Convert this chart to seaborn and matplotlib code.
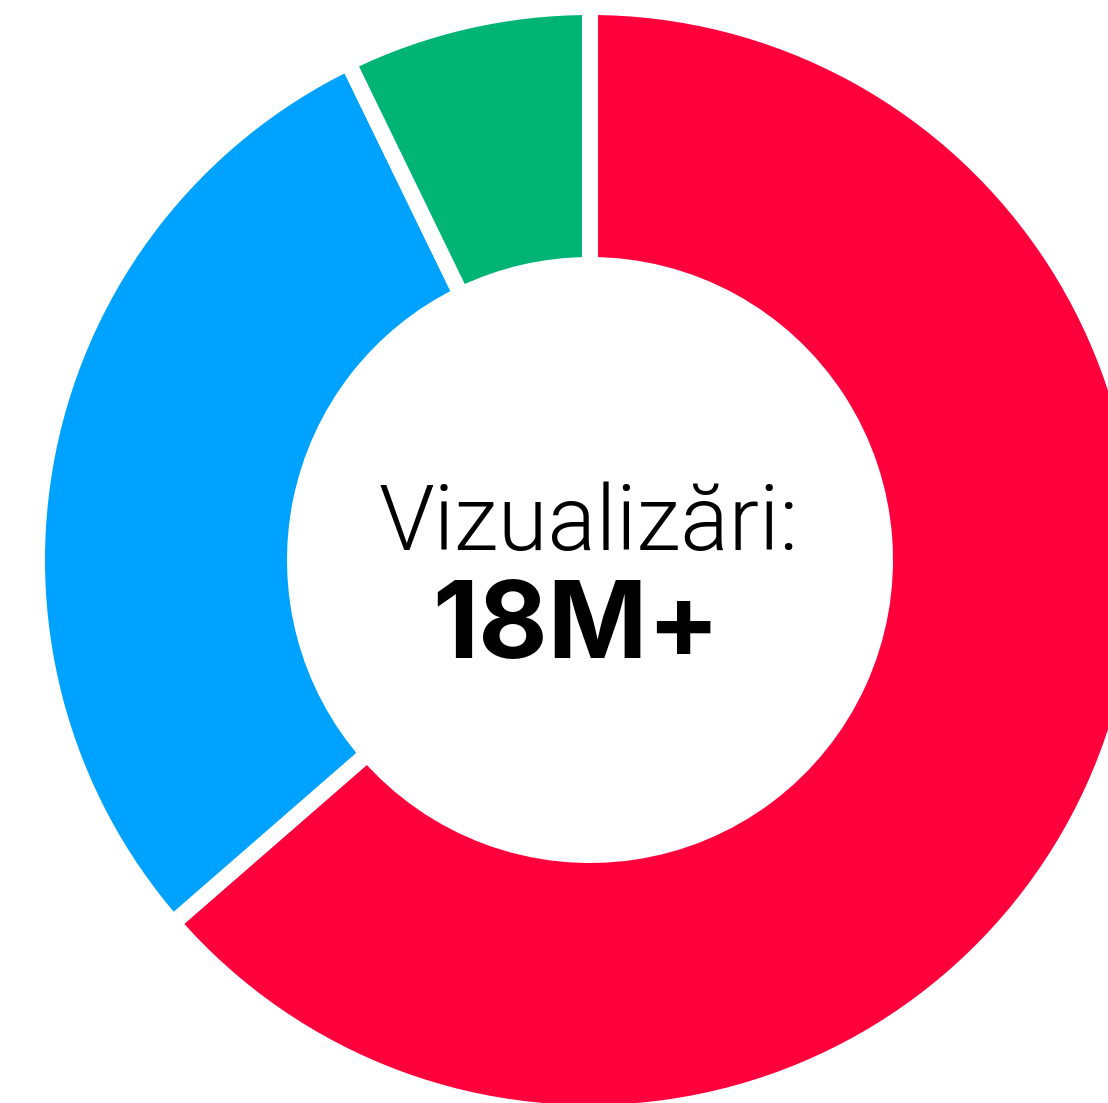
import matplotlib
matplotlib.use("Agg")
import matplotlib.pyplot as plt
import seaborn as sns

# Share of views by segment (read from the donut, percent)
segments = ["A", "B", "C"]
shares = [63.6, 29.2, 7.2]
colors = ["#FF003C", "#00A2FF", "#00B476"]

label_top = "Vizualizări:"
label_main = "18M+"

sns.set_theme(style="white")
plt.rcParams['font.family'] = ['Roboto', 'DejaVu Sans']

W, H = 1108, 1103
fig = plt.figure(figsize=(W / 100, H / 100), dpi=100)
ax = fig.add_axes([0, 0, 1, 1])

cx, cy = 590, H - 560
gap = 16  # px
ax.pie(
    shares,
    colors=colors,
    startangle=90,
    counterclock=False,
    center=(cx, cy),
    radius=545 + gap / 2,
    wedgeprops=dict(width=242 + gap, edgecolor="white", linewidth=gap * 0.72),
    frame=True,
)

ax.text(589, H - 550, label_top, ha="center", va="baseline",
        fontsize=65, fontweight=300, color="black")
ax.text(576, H - 658, label_main, ha="center", va="baseline",
        fontsize=77, fontweight="bold", color="black",
        family=["Inter", "DejaVu Sans"])

ax.set_xlim(0, W)
ax.set_ylim(0, H)
ax.set_aspect("equal")
ax.axis("off")

fig.savefig("out.png", dpi=100, facecolor="white")
